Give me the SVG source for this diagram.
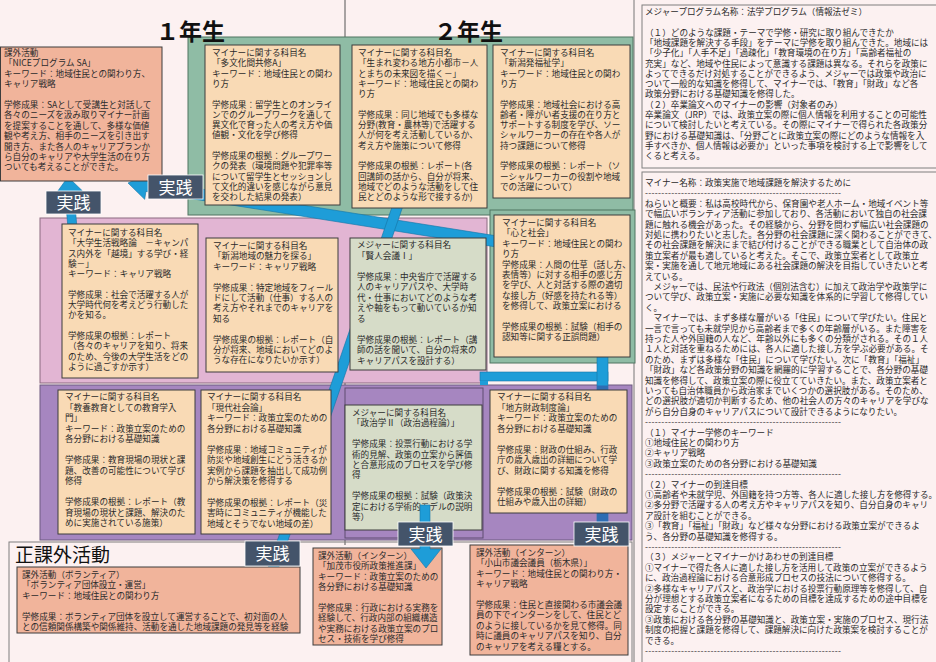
<svg xmlns="http://www.w3.org/2000/svg" width="936" height="662" viewBox="0 0 936 662">
<defs>
<style>
.t{font-family:"Noto Sans CJK JP","Noto Sans CJK SC",sans-serif;font-size:8.6px;fill:#2b2b2b}
.bx{stroke:#3d3d3d;stroke-width:1}
.minor{fill:#f9dab5}.act{fill:#f1b49b}.major{fill:#d6dcc8}
.lab rect{fill:#44546a;stroke:#ffffff;stroke-width:0.8}
.lab text{font-family:"Noto Sans CJK JP",sans-serif;font-size:17px;fill:#ffffff;text-anchor:middle}
.arr{fill:#1e9dd8;stroke:#1677a8;stroke-width:0.6}
.hdr{font-family:"Noto Sans CJK JP",sans-serif;font-size:23px;font-weight:bold;fill:#111}
.frame{fill:none;stroke:#7f7f7f;stroke-width:1}
</style>
</defs>
<rect x="0" y="0" width="936" height="662" fill="#fcf1f1"/>

<g id="panels">
<line x1="345" y1="0" x2="345" y2="545" stroke="#555" stroke-width="1"/>
<line x1="634" y1="0" x2="634" y2="662" stroke="#777" stroke-width="1"/>
<rect x="188" y="37" width="445" height="178" fill="#8fbca5" stroke="#4f7461" stroke-width="1"/>
<rect x="490" y="210" width="145" height="153" fill="#8fbca5" stroke="#4f7461" stroke-width="1"/>
<rect x="40" y="218" width="447" height="165" fill="#e2b5d3" stroke="#8a6a80" stroke-width="1"/>
<rect x="40" y="385" width="592" height="155" fill="#a686c0" stroke="#6d5a80" stroke-width="1"/>
<rect x="345" y="388" width="138" height="150" fill="none" stroke="#5e4c70" stroke-width="1"/>
<rect x="9" y="542" width="623" height="130" class="frame" fill="#fcf1f1"/>
<text x="15" y="562" style="font-family:'Noto Sans CJK JP',sans-serif;font-size:19px;fill:#111">正課外活動</text>
<text x="156" y="40" class="hdr">１年生</text>
<text x="434" y="40" class="hdr">２年生</text>
</g>

<g id="connectors">
<polygon class="arr" transform="translate(500,242) rotate(189.01)" points="0,-5.5 357.6,-5.5 357.6,-13.5 376.6,0 357.6,13.5 357.6,5.5 0,5.5"/>
<polygon class="arr" transform="translate(74,245) rotate(-95.04)" points="0,-4.5 53.3,-4.5 53.3,-13 68.3,0 53.3,13 53.3,4.5 0,4.5"/>
<polygon class="arr" transform="translate(398,205) rotate(108.97)" points="0,-5 389.2,-5 389.2,-14 409.2,0 389.2,14 389.2,5 0,5"/>
<rect class="arr" x="480" y="372" width="128" height="9"/>
<rect x="480" y="381" width="8" height="4" fill="#1e9dd8"/>
<polygon class="arr" points="597,355 608,355 608,550 617,550 602.5,572 588,550 597,550"/>
<rect x="597" y="385.5" width="11" height="137" fill="#2e6db3"/>
</g>

<g id="nice">
<rect class="bx act" x="0.5" y="47" width="161.5" height="134"/>
<text class="t" x="4" y="56"><tspan x="4">課外活動</tspan><tspan x="4" dy="10.4">「NICEプログラム SA」</tspan><tspan x="4" dy="10.4">キーワード：地域住民との関わり方、</tspan><tspan x="4" dy="10.4">キャリア戦略</tspan><tspan x="4" dy="20.8">学修成果：SAとして受講生と対話して</tspan><tspan x="4" dy="10.4">各々のニーズを汲み取りマイナー計画</tspan><tspan x="4" dy="10.4">を提案することを通して、多様な価値</tspan><tspan x="4" dy="10.4">観や考え方、相手のニーズを引き出す</tspan><tspan x="4" dy="10.4">聞き方、また各人のキャリアプランか</tspan><tspan x="4" dy="10.4">ら自分のキャリアや大学生活の在り方</tspan><tspan x="4" dy="10.4">ついても考えることができた。</tspan></text>
</g>

<g id="tabunka">
<rect class="bx minor" x="205" y="45" width="135" height="160"/>
<text class="t" y="56"><tspan x="212">マイナーに関する科目名</tspan><tspan x="212" dy="10.3">「多文化間共修A」</tspan><tspan x="212" dy="10.3">キーワード：地域住民との関わ</tspan><tspan x="212" dy="10.3">り方</tspan><tspan x="212" dy="20.6">学修成果：留学生とのオンライ</tspan><tspan x="212" dy="10.3">ンでのグループワークを通して</tspan><tspan x="212" dy="10.3">異文化で育った人の考え方や価</tspan><tspan x="212" dy="10.3">値観・文化を学び修得</tspan><tspan x="212" dy="20.6">学修成果の根拠：グループワー</tspan><tspan x="212" dy="10.3">クの発表（環境問題や犯罪率等</tspan><tspan x="212" dy="10.3">について留学生とセッションし</tspan><tspan x="212" dy="10.3">て文化的違いを感じながら意見</tspan><tspan x="212" dy="10.3">を交わした結果の発表）</tspan></text>
</g>

<g id="umarekawaru">
<rect class="bx minor" x="352" y="45" width="135" height="163"/>
<text class="t" y="56"><tspan x="358">マイナーに関する科目名</tspan><tspan x="358" dy="10.3">「生まれ変わる地方小都市－人</tspan><tspan x="358" dy="10.3">とまちの未来図を描く－」</tspan><tspan x="358" dy="10.3">キーワード：地域住民との関わ</tspan><tspan x="358" dy="10.3">り方</tspan><tspan x="358" dy="20.6">学修成果：同じ地域でも多様な</tspan><tspan x="358" dy="10.3">分野(教育・農林等)で活躍する</tspan><tspan x="358" dy="10.3">人が何を考え活動しているか、</tspan><tspan x="358" dy="10.3">考え方や施策について修得</tspan><tspan x="358" dy="20.6">学修成果の根拠：レポート(各</tspan><tspan x="358" dy="10.3">回講師の話から、自分が将来、</tspan><tspan x="358" dy="10.3">地域でどのような活動をして住</tspan><tspan x="358" dy="10.3">民とどのような形で接するか)</tspan></text>
</g>

<g id="fukushi">
<rect class="bx minor" x="493" y="45" width="137" height="153"/>
<text class="t" y="56"><tspan x="500">マイナーに関する科目名</tspan><tspan x="500" dy="10.3">「新潟発福祉学」</tspan><tspan x="500" dy="10.3">キーワード：地域住民との関わ</tspan><tspan x="500" dy="10.3">り方</tspan><tspan x="500" dy="20.6">学修成果：地域社会における高</tspan><tspan x="500" dy="10.3">齢者・障がい者支援の在り方と</tspan><tspan x="500" dy="10.3">サポートする制度を学び、ソー</tspan><tspan x="500" dy="10.3">シャルワーカーの存在や各人が</tspan><tspan x="500" dy="10.3">持つ課題について修得</tspan><tspan x="500" dy="20.6">学修成果の根拠：レポート（ソ</tspan><tspan x="500" dy="10.3">ーシャルワーカーの役割や地域</tspan><tspan x="500" dy="10.3">での活躍について）</tspan></text>
</g>

<g id="senryaku">
<rect class="bx minor" x="62" y="224" width="136" height="154"/>
<text class="t" y="236"><tspan x="68">マイナーに関する科目名</tspan><tspan x="68" dy="10.3">「大学生活戦略論　－キャンパ</tspan><tspan x="68" dy="10.3">ス内外を「越境」する学び・経</tspan><tspan x="68" dy="10.3">験－」</tspan><tspan x="68" dy="10.3">キーワード：キャリア戦略</tspan><tspan x="68" dy="20.6">学修成果：社会で活躍する人が</tspan><tspan x="68" dy="10.3">大学時代何を考えどう行動した</tspan><tspan x="68" dy="10.3">かを知る。</tspan><tspan x="68" dy="20.6">学修成果の根拠：レポート</tspan><tspan x="68" dy="10.3">（各々のキャリアを知り、将来</tspan><tspan x="68" dy="10.3">のため、今後の大学生活をどの</tspan><tspan x="68" dy="10.3">ように過ごすか示す）</tspan></text>
</g>

<g id="miryoku">
<rect class="bx minor" x="206" y="238" width="132" height="134"/>
<text class="t" y="249"><tspan x="213">マイナーに関する科目名</tspan><tspan x="213" dy="10.4">「新潟地域の魅力を探る」</tspan><tspan x="213" dy="10.4">キーワード：キャリア戦略</tspan><tspan x="213" dy="20.8">学修成果：特定地域をフィール</tspan><tspan x="213" dy="10.4">ドにして活動（仕事）する人の</tspan><tspan x="213" dy="10.4">考え方やそれまでのキャリアを</tspan><tspan x="213" dy="10.4">知る</tspan><tspan x="213" dy="20.8">学修成果の根拠：レポート（自</tspan><tspan x="213" dy="10.4">分が将来、地域においてどのよ</tspan><tspan x="213" dy="10.4">うな存在になりたいか示す）</tspan></text>
</g>

<g id="kenjin">
<rect class="bx major" x="350" y="238" width="136" height="132"/>
<text class="t" y="248"><tspan x="357">メジャーに関する科目名</tspan><tspan x="357" dy="10.5">「賢人会議Ⅰ」</tspan><tspan x="357" dy="21">学修成果：中央省庁で活躍する</tspan><tspan x="357" dy="10.5">人のキャリアパスや、大学時</tspan><tspan x="357" dy="10.5">代・仕事においてどのような考</tspan><tspan x="357" dy="10.5">えや軸をもって動いているか知</tspan><tspan x="357" dy="10.5">る</tspan><tspan x="357" dy="21">学修成果の根拠：レポート（講</tspan><tspan x="357" dy="10.5">師の話を聞いて、自分の将来の</tspan><tspan x="357" dy="10.5">キャリアパスを設計する）</tspan></text>
</g>

<g id="kokoro">
<rect class="bx minor" x="494" y="215" width="136" height="142"/>
<text class="t" y="226"><tspan x="502">マイナーに関する科目名</tspan><tspan x="502" dy="10.4">「心と社会」</tspan><tspan x="502" dy="10.4">キーワード：地域住民との関わ</tspan><tspan x="502" dy="10.4">り方</tspan><tspan x="502" dy="10.4">学修成果：人間の仕草（話し方、</tspan><tspan x="502" dy="10.4">表情等）に対する相手の感じ方</tspan><tspan x="502" dy="10.4">を学び、人と対話する際の適切</tspan><tspan x="502" dy="10.4">な接し方（好感を持たれる等）</tspan><tspan x="502" dy="10.4">を修得して、政策立案における</tspan><tspan x="502" dy="20.8">学修成果の根拠：試験（相手の</tspan><tspan x="502" dy="10.4">認知等に関する正誤問題）</tspan></text>
</g>

<g id="kyouyou">
<rect class="bx minor" x="58" y="390" width="137" height="144"/>
<text class="t" y="400"><tspan x="65">マイナーに関する科目名</tspan><tspan x="65" dy="10.5">「教養教育としての教育学入</tspan><tspan x="65" dy="10.5">門」</tspan><tspan x="65" dy="10.5">キーワード：政策立案のための</tspan><tspan x="65" dy="10.5">各分野における基礎知識</tspan><tspan x="65" dy="21">学修成果：教育現場の現状と課</tspan><tspan x="65" dy="10.5">題、改善の可能性について学び</tspan><tspan x="65" dy="10.5">修得</tspan><tspan x="65" dy="21">学修成果の根拠：レポート（教</tspan><tspan x="65" dy="10.5">育現場の現状と課題、解決のた</tspan><tspan x="65" dy="10.5">めに実施されている施策）</tspan></text>
</g>

<g id="gendai">
<rect class="bx minor" x="201" y="390" width="130" height="144"/>
<text class="t" y="400"><tspan x="207">マイナーに関する科目名</tspan><tspan x="207" dy="10.55">「現代社会論」</tspan><tspan x="207" dy="10.55">キーワード：政策立案のための</tspan><tspan x="207" dy="10.55">各分野における基礎知識</tspan><tspan x="207" dy="21.1">学修成果：地域コミュニティが</tspan><tspan x="207" dy="10.55">防災や地域創生にどう活きるか</tspan><tspan x="207" dy="10.55">実例から課題を抽出して成功例</tspan><tspan x="207" dy="10.55">から解決策を修得する</tspan><tspan x="207" dy="21.1">学修成果の根拠：レポート（災</tspan><tspan x="207" dy="10.55">害時にコミュニティが機能した</tspan><tspan x="207" dy="10.55">地域とそうでない地域の差）</tspan></text>
</g>

<g id="seiji">
<rect class="bx major" x="345" y="405" width="137" height="125"/>
<text class="t" y="416"><tspan x="352">メジャーに関する科目名</tspan><tspan x="352" dy="10.4">「政治学Ⅱ（政治過程論）」</tspan><tspan x="352" dy="20.8">学修成果：投票行動における学</tspan><tspan x="352" dy="10.4">術的見解、政策の立案から評価</tspan><tspan x="352" dy="10.4">と合意形成のプロセスを学び修</tspan><tspan x="352" dy="10.4">得</tspan><tspan x="352" dy="20.8">学修成果の根拠：試験（政策決</tspan><tspan x="352" dy="10.4">定における学術的モデルの説明</tspan><tspan x="352" dy="10.4">等）</tspan></text>
</g>

<g id="zaisei">
<rect class="bx minor" x="490" y="390" width="137" height="123"/>
<text class="t" y="400"><tspan x="497">マイナーに関する科目名</tspan><tspan x="497" dy="10.5">「地方財政制度論」</tspan><tspan x="497" dy="10.5">キーワード：政策立案のための</tspan><tspan x="497" dy="10.5">各分野における基礎知識</tspan><tspan x="497" dy="21">学修成果：財政の仕組み、行政</tspan><tspan x="497" dy="10.5">庁の歳入歳出の詳細について学</tspan><tspan x="497" dy="10.5">び、財政に関する知識を修得</tspan><tspan x="497" dy="21">学修成果の根拠：試験（財政の</tspan><tspan x="497" dy="10.5">仕組みや歳入出の詳細）</tspan></text>
</g>

<g id="volunteer">
<rect class="bx act" x="17" y="567" width="283" height="66"/>
<text class="t" y="578"><tspan x="22">課外活動（ボランティア）</tspan><tspan x="22" dy="10.4">「ボランティア団体設立・運営」</tspan><tspan x="22" dy="10.4">キーワード：地域住民との関わり方</tspan><tspan x="22" dy="20.8">学修成果：ボランティア団体を設立して運営することで、初対面の人</tspan><tspan x="22" dy="10.4">との信頼関係構築や関係維持、活動を通した地域課題の発見等を経験</tspan></text>
</g>

<g id="kamo">
<rect class="bx act" x="313" y="548" width="129" height="97"/>
<text class="t" y="559"><tspan x="318">課外活動（インターン）</tspan><tspan x="318" dy="10.4">「加茂市役所政策推進課」</tspan><tspan x="318" dy="10.4">キーワード：政策立案のための</tspan><tspan x="318" dy="10.4">各分野における基礎知識</tspan><tspan x="318" dy="20.8">学修成果：行政における実務を</tspan><tspan x="318" dy="10.4">経験して、行政内部の組織構造</tspan><tspan x="318" dy="10.4">や実務における政策立案のプロ</tspan><tspan x="318" dy="10.4">セス・技術を学び修得</tspan></text>
</g>

<g id="oyama">
<rect class="bx act" x="470" y="545" width="158" height="110"/>
<text class="t" y="556"><tspan x="476">課外活動（インターン）</tspan><tspan x="476" dy="10.4">「小山市議会議員（栃木県）」</tspan><tspan x="476" dy="10.4">キーワード：地域住民との関わり方・</tspan><tspan x="476" dy="10.4">キャリア戦略</tspan><tspan x="476" dy="20.8">学修成果：住民と直接関わる市議会議</tspan><tspan x="476" dy="10.4">員の下でインターンをして、住民とど</tspan><tspan x="476" dy="10.4">のように接しているかを見て修得。同</tspan><tspan x="476" dy="10.4">時に議員のキャリアパスを知り、自分</tspan><tspan x="476" dy="10.4">のキャリアを考える糧とする。</tspan></text>
</g>

<g id="connectors-top">
<polygon class="arr" points="420,505 430,505 430,549 441,549 426,568 411,549 420,549"/>
</g>

<g id="labels">
<g class="lab"><rect x="148" y="175" width="55" height="24"/><text x="175.5" y="193.5">実践</text></g>
<g class="lab"><rect x="46" y="191" width="55" height="23"/><text x="73.5" y="209">実践</text></g>
<g class="lab"><rect x="245" y="541" width="55" height="25"/><text x="272.5" y="560">実践</text></g>
<g class="lab"><rect x="398" y="522" width="55" height="24"/><text x="425.5" y="540.5">実践</text></g>
<g class="lab"><rect x="574" y="522" width="55" height="24"/><text x="601.5" y="540.5">実践</text></g>
</g>

<g id="major-program">
<rect x="642" y="5" width="300" height="163" class="frame"/>
<text class="t" y="15"><tspan x="645">メジャープログラム名称：法学プログラム（情報法ゼミ）</tspan><tspan x="645" dy="20.6">（１）どのような課題・テーマで学修・研究に取り組んできたか</tspan><tspan x="645" dy="10.3">「地域課題を解決する手段」をテーマに学修を取り組んできた。地域には</tspan><tspan x="645" dy="10.3">「少子化」「人手不足」「過疎化」「教育環境の在り方」「高齢者福祉の</tspan><tspan x="645" dy="10.3">充実」など、地域や住民によって意識する課題は異なる。それらを政策に</tspan><tspan x="645" dy="10.3">よってできるだけ対処することができるよう、メジャーでは政策や政治に</tspan><tspan x="645" dy="10.3">ついて一般的な知識を修得して、マイナーでは、「教育」「財政」など各</tspan><tspan x="645" dy="10.3">政策分野における基礎知識を修得した。</tspan><tspan x="645" dy="10.3">（２）卒業論文へのマイナーの影響（対象者のみ）</tspan><tspan x="645" dy="10.3">卒業論文（JRP）では、政策立案の際に個人情報を利用することの可能性</tspan><tspan x="645" dy="10.3">について検討したいと考えている。その際にマイナーで得られた各政策分</tspan><tspan x="645" dy="10.3">野における基礎知識は、「分野ごとに政策立案の際にどのような情報を入</tspan><tspan x="645" dy="10.3">手すべきか、個人情報は必要か」といった事項を検討する上で影響をして</tspan><tspan x="645" dy="10.3">くると考える。</tspan></text>
</g>

<g id="minor-program">
<rect x="642" y="172" width="300" height="500" class="frame"/>
<text class="t" y="186"><tspan x="645">マイナー名称：政策実施で地域課題を解決するために</tspan><tspan x="645" dy="10.4" textLength="196" lengthAdjust="spacing">------------------------------------------------------------</tspan><tspan x="645" dy="10.4">ねらいと概要：私は高校時代から、保育園や老人ホーム・地域イベント等</tspan><tspan x="645" dy="10.4">で幅広いボランティア活動に参加しており、各活動において独自の社会課</tspan><tspan x="645" dy="10.4">題に触れる機会があった。その経験から、分野を問わず幅広い社会課題の</tspan><tspan x="645" dy="10.4">対処に携わりたいと志した。各分野の社会課題に深く関わることができて、</tspan><tspan x="645" dy="10.4">その社会課題を解決にまで結び付けることができる職業として自治体の政</tspan><tspan x="645" dy="10.4">策立案者が最も適していると考えた。そこで、政策立案者として政策立</tspan><tspan x="645" dy="10.4">案・実施を通して地元地域にある社会課題の解決を目指していきたいと考</tspan><tspan x="645" dy="10.4">えている。</tspan><tspan x="645" dy="10.4">　メジャーでは、民法や行政法（個別法含む）に加えて政治学や政策学に</tspan><tspan x="645" dy="10.4">ついて学び、政策立案・実施に必要な知識を体系的に学習して修得してい</tspan><tspan x="645" dy="10.4">く。</tspan><tspan x="645" dy="10.4">　マイナーでは、まず多様な層がいる「住民」について学びたい。住民と</tspan><tspan x="645" dy="10.4">一言で言っても未就学児から高齢者まで多くの年齢層がいる。また障害を</tspan><tspan x="645" dy="10.4">持った人や外国籍の人など、年齢以外にも多くの分類がされる。その１人</tspan><tspan x="645" dy="10.4">１人と対話を重ねるためには、各人に適した接し方を学ぶ必要がある。そ</tspan><tspan x="645" dy="10.4">のため、まずは多様な「住民」について学びたい。次に「教育」「福祉」</tspan><tspan x="645" dy="10.4">「財政」など各政策分野の知識を網羅的に学習することで、各分野の基礎</tspan><tspan x="645" dy="10.4">知識を修得して、政策立案の際に役立てていきたい。また、政策立案者と</tspan><tspan x="645" dy="10.4">いっても自治体職員から政治家までいくつかの選択肢がある。そのため、</tspan><tspan x="645" dy="10.4">どの選択肢が適切か判断するため、他の社会人の方々のキャリアを学びな</tspan><tspan x="645" dy="10.4">がら自分自身のキャリアパスについて設計できるようになりたい。</tspan><tspan x="645" dy="10.4" textLength="196" lengthAdjust="spacing">------------------------------------------------------------</tspan><tspan x="645" dy="10.4">（１）マイナー学修のキーワード</tspan><tspan x="645" dy="10.4">①地域住民との関わり方</tspan><tspan x="645" dy="10.4">②キャリア戦略</tspan><tspan x="645" dy="10.4">③政策立案のための各分野における基礎知識</tspan><tspan x="645" dy="10.4" textLength="196" lengthAdjust="spacing">------------------------------------------------------------</tspan><tspan x="645" dy="10.4">（２）マイナーの到達目標</tspan><tspan x="645" dy="10.4">①高齢者や未就学児、外国籍を持つ方等、各人に適した接し方を修得する。</tspan><tspan x="645" dy="10.4">②多分野で活躍する人の考え方やキャリアパスを知り、自分自身のキャリ</tspan><tspan x="645" dy="10.4">ア設計を組むことができる。</tspan><tspan x="645" dy="10.4">③「教育」「福祉」「財政」など様々な分野における政策立案ができるよ</tspan><tspan x="645" dy="10.4">う、各分野の基礎知識を修得する。</tspan><tspan x="645" dy="10.4" textLength="196" lengthAdjust="spacing">------------------------------------------------------------</tspan><tspan x="645" dy="10.4">（３）メジャーとマイナーかけあわせの到達目標</tspan><tspan x="645" dy="10.4">①マイナーで得た各人に適した接し方を活用して政策の立案ができるよう</tspan><tspan x="645" dy="10.4">に、政治過程論における合意形成プロセスの技法について修得する。</tspan><tspan x="645" dy="10.4">②多様なキャリアパスと、政治学における投票行動原理等を修得して、自</tspan><tspan x="645" dy="10.4">分が理想とする政策立案者になるための目標を達成するための途中目標を</tspan><tspan x="645" dy="10.4">設定することができる。</tspan><tspan x="645" dy="10.4">③政策における各分野の基礎知識と、政策立案・実施のプロセス、現行法</tspan><tspan x="645" dy="10.4">制度の把握と課題を修得して、課題解決に向けた政策案を検討することが</tspan><tspan x="645" dy="10.4">できる。</tspan><tspan x="645" dy="10.4" textLength="196" lengthAdjust="spacing">------------------------------------------------------------</tspan></text>
</g>
</svg>
